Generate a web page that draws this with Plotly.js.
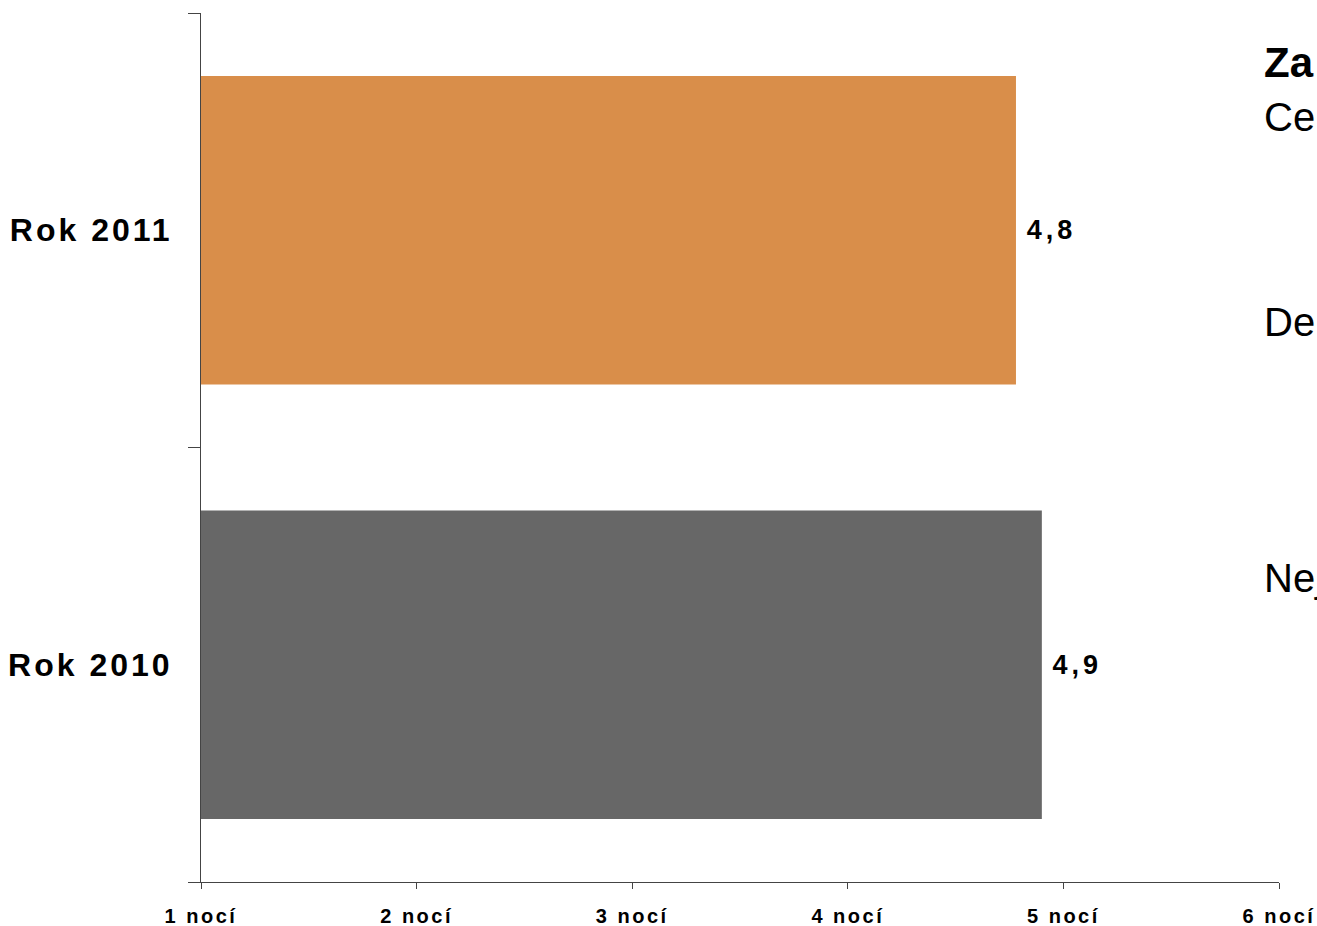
<!DOCTYPE html>
<html>
<head>
<meta charset="utf-8">
<script src="https://cdn.plot.ly/plotly-3.0.1.min.js"></script>
<style>
  html, body { margin: 0; padding: 0; background: #ffffff; }
  #chart { width: 1317px; height: 926px; }
  #chart .ytick text { letter-spacing: 3px; }
  #chart .xtick text { letter-spacing: 2.5px; }
  #chart .bartext text, #chart text.bartext { letter-spacing: 4px; }
</style>
</head>
<body>
<div id="chart"></div>
<script>
// Data
const categories = ['Rok 2010', 'Rok 2011'];
const values = [4.9, 4.78];
const valueLabels = ['4,9', '4,8'];
const barColors = ['#676767', '#D98E4A'];
const tickValues = [1, 2, 3, 4, 5, 6];
const tickLabels = ['1 nocí', '2 nocí', '3 nocí', '4 nocí', '5 nocí', '6 nocí'];
const sideTexts = ['<b>Za</b>', 'Ce', 'De', 'Nej'];

const trace = {
  type: 'bar',
  orientation: 'h',
  y: categories,
  x: values,
  text: valueLabels.map(s => '\u200a\u00a0' + s),
  textposition: 'outside',
  cliponaxis: false,
  textfont: { family: 'Liberation Sans', size: 27, color: '#000000', weight: 'bold' },
  marker: { color: barColors, line: { width: 0 } },
  hoverinfo: 'none'
};

const sideY = [0.9425, 0.880, 0.644, 0.350];
const sideSizes = [42, 40, 40, 40];
const annotations = sideTexts.map((t, i) => ({
  xref: 'paper', yref: 'paper',
  x: 0.984, y: sideY[i],
  xanchor: 'left', yanchor: 'middle',
  text: t, showarrow: false,
  font: { family: 'Liberation Sans', size: sideSizes[i], color: '#000000' }
}));

const layout = {
  width: 1317, height: 926,
  margin: { l: 201, r: 38, t: 13, b: 44, pad: 0 },
  paper_bgcolor: '#ffffff',
  plot_bgcolor: '#ffffff',
  showlegend: false,
  bargap: 0.29,
  xaxis: {
    range: [1, 6],
    tickvals: tickValues,
    ticktext: tickLabels,
    showgrid: false,
    zeroline: false,
    showline: true,
    linecolor: '#444444',
    linewidth: 1,
    ticks: 'outside',
    ticklen: 6,
    tickcolor: '#444444',
    ticklabelstandoff: 10,
    tickfont: { family: 'Liberation Sans', size: 20, color: '#000000', weight: 'bold' },
    fixedrange: true
  },
  yaxis: {
    type: 'category',
    categoryorder: 'array',
    categoryarray: categories,
    showgrid: false,
    zeroline: false,
    showline: true,
    linecolor: '#444444',
    linewidth: 1,
    ticks: 'outside',
    tickson: 'boundaries',
    ticklen: 12,
    tickcolor: '#444444',
    ticklabelstandoff: 21,
    tickfont: { family: 'Liberation Sans', size: 32, color: '#000000', weight: 'bold' },
    fixedrange: true
  },
  annotations: annotations
};

Plotly.newPlot('chart', [trace], layout, { displayModeBar: false, staticPlot: true });
</script>
</body>
</html>
